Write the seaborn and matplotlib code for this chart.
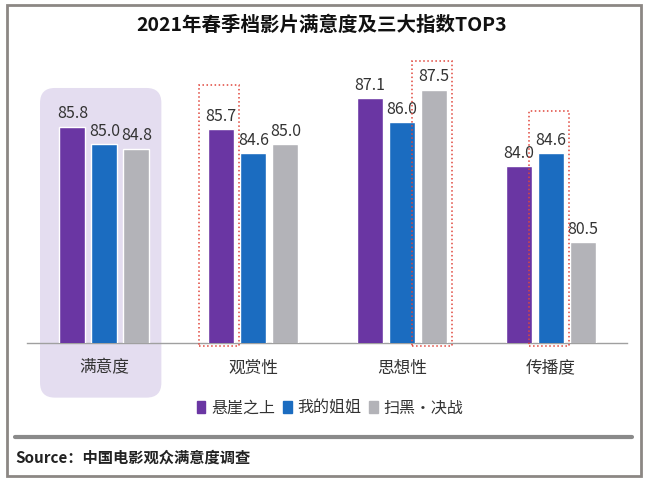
import numpy as np
import pandas as pd
import matplotlib
matplotlib.use("Agg")
import matplotlib.pyplot as plt
import seaborn as sns
from matplotlib.patches import Rectangle, FancyBboxPatch
from matplotlib.lines import Line2D

# data
categories = ["满意度", "观赏性", "思想性", "传播度"]
films = ["悬崖之上", "我的姐姐", "扫黑·决战"]
xuanya = [85.8, 85.7, 87.1, 84.0]
jiejie = [85.0, 84.6, 86.0, 84.6]
saohei = [84.8, 85.0, 87.5, 80.5]
# bars marked with a red dotted box: (film index, category index)
marked = [(0, 1), (2, 2), (1, 3)]
box_extra = [2.0, 1.3, 1.9]  # how far the box reaches above the bar

df = pd.DataFrame({
    "指标": categories * 3,
    "评分": xuanya + jiejie + saohei,
    "影片": [f for f in films for _ in categories],
})

sns.set_theme(style="white")
plt.rcParams["font.family"] = ["Noto Sans CJK SC", "DejaVu Sans"]

colors = ["#6a36a3", "#1b6cc0", "#b3b3b8"]

fig = plt.figure(figsize=(6.5, 4.79), dpi=100)
W, H = 650, 479
ax = fig.add_axes([27 / W, 1 - 343 / H, 600 / W, 283 / H])

ymin, ymax = 75.9, 88.85

sns.barplot(data=df, x="指标", y="评分", hue="影片", palette=colors,
            saturation=1, width=0.645, gap=0.186, ax=ax, legend=False, zorder=3)

ax.set_ylim(ymin, ymax)
ax.set_xlim(-0.52, 3.51)
ax.set_xlabel("")
ax.set_ylabel("")
ax.set_yticks([])
ax.tick_params(axis="x", length=0, pad=12, labelsize=12, labelcolor="#333333")
for s in ["top", "left", "right"]:
    ax.spines[s].set_visible(False)
ax.spines["bottom"].set_color("#a0a0a0")
ax.spines["bottom"].set_linewidth(1)
ax.patch.set_alpha(0)

# value labels
for cont in ax.containers:
    ax.bar_label(cont, fmt="%.1f", padding=3, fontsize=11.5, color="#333333")

# lavender highlight behind the first group
first = [ax.containers[i][0] for i in range(3)]
x0 = first[0].get_x() - 0.13
x1 = first[-1].get_x() + first[-1].get_width() + 0.08
px_x = 600 / (3.51 + 0.52)
px_y = 283 / (ymax - ymin)
hl = FancyBboxPatch((x0, 73.4), x1 - x0, 87.57 - 73.4,
                    boxstyle="round,pad=0,rounding_size=0.1",
                    mutation_aspect=px_x / px_y,
                    facecolor="#e4ddf0", edgecolor="none",
                    clip_on=False, zorder=0, transform=ax.transData)
ax.add_patch(hl)

# red dotted boxes
for (fi, ci), extra in zip(marked, box_extra):
    b = ax.containers[fi][ci]
    bx = b.get_x() - 0.06
    bw = b.get_width() + 0.09
    top = b.get_height() + extra
    ax.add_patch(Rectangle((bx, ymin - 0.12), bw, top - ymin + 0.12,
                           fill=False, edgecolor="#e0463c", linestyle=":",
                           linewidth=1.1, clip_on=False, zorder=4))

# legend
handles = [Rectangle((0, 0), 1, 1, color=c) for c in colors]
fig.legend(handles, films, loc="center", bbox_to_anchor=(0.508, 1 - 408 / H),
           ncol=3, frameon=False, fontsize=11.5, handlelength=0.55,
           handleheight=0.75, handletextpad=0.35, columnspacing=0.5,
           labelcolor="#333333")

# title
fig.text(0.495, 1 - 25 / H, "2021年春季档影片满意度及三大指数TOP3",
         ha="center", va="center", fontsize=14, fontweight="heavy",
         color="#111111")

# frame and separator
fig.add_artist(Rectangle((7 / W, 3 / H), 634 / W, 471 / H, transform=fig.transFigure,
                         fill=False, edgecolor="#8c8784", linewidth=2))
fig.add_artist(Line2D([15 / W, 632 / W], [1 - 437 / H, 1 - 437 / H],
                      transform=fig.transFigure, color="#8a8a8a", linewidth=3))

fig.text(15 / W, 1 - 458 / H, "Source：中国电影观众满意度调查", ha="left", va="center",
         fontsize=11, fontweight="bold", color="#222222")

fig.savefig("out.png", dpi=100)
